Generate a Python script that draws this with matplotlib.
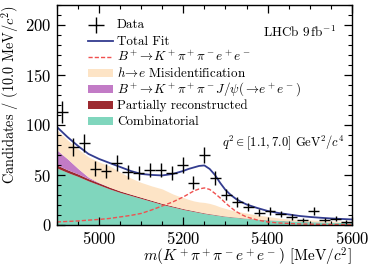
import numpy as np
import matplotlib
matplotlib.use("Agg")
import matplotlib.pyplot as plt
from matplotlib.patches import Rectangle
from matplotlib.ticker import MultipleLocator

plt.rcParams['font.family'] = 'serif'
plt.rcParams['font.serif'] = ['cmr10', 'DejaVu Serif']
plt.rcParams['mathtext.fontset'] = 'cm'
plt.rcParams['axes.formatter.use_mathtext'] = True

# data histogram (27 bins between 4900 and 5600 MeV)
bin_edges = np.linspace(4900, 5600, 28)
counts = [113, 78, 82, 56, 54, 62, 53, 52, 55, 55, 52, 60, 42, 70, 47,
          30, 23, 18, 12, 14, 11, 8, 5, 14, 5, 6, 3]

# fit components (finer steps around the peak)
mass = [4900, 4925, 4950, 4975, 5000, 5025, 5050, 5075, 5100, 5125,
        5150, 5175, 5187.5, 5200, 5212.5, 5225, 5237.5, 5250, 5262.5, 5275,
        5287.5, 5300, 5312.5, 5325, 5337.5, 5350, 5375, 5400, 5425, 5450,
        5475, 5500, 5525, 5550, 5575, 5600]
comb = [57, 52.5, 48.5, 44, 40, 36, 32.5, 29.5, 26.5, 23.5,
        20.5, 18, 16.8, 15.5, 14.5, 13.5, 12.5, 11.5, 10.7, 10,
        9.2, 8.5, 8, 7.5, 7, 6.5, 5.5, 5, 4.5, 4,
        3.5, 3.2, 3, 2.7, 2.5, 2.3]
partreco = [3, 2.7, 2.5, 2.2, 2, 1.8, 1.5, 1.3, 1.2, 1.1,
            1, 0.9, 0.85, 0.8, 0.75, 0.7, 0.65, 0.6, 0.55, 0.5,
            0.45, 0.4, 0.38, 0.35, 0.32, 0.3, 0.25, 0.2, 0.2, 0.15,
            0.15, 0.1, 0.1, 0.1, 0.1, 0.1]
jpsi = [15, 11, 5.5, 1.5, 0.3, 0, 0, 0, 0, 0,
        0, 0, 0, 0, 0, 0, 0, 0, 0, 0,
        0, 0, 0, 0, 0, 0, 0, 0, 0, 0,
        0, 0, 0, 0, 0, 0]
misid_top = [95, 85, 76, 68, 63, 59, 53, 47, 42.5, 39,
             36, 31, 29, 27.5, 25.5, 24, 23, 22.5, 21.5, 20,
             18, 16.5, 15, 13.8, 12.8, 11.8, 10, 8.5, 7, 6,
             5.5, 5, 4.5, 4, 3.7, 3.5]
signal = [3, 3.5, 4, 4.8, 5.5, 6.5, 8, 9.5, 11.5, 15,
          19, 23, 25.5, 28, 31, 34, 36, 37, 35.5, 31.5,
          27, 22, 17.5, 13.5, 10.5, 8, 5, 3, 2, 1.5,
          1, 0.8, 0.6, 0.5, 0.4, 0.3]
total = [98, 88, 79, 71, 66, 62, 58, 54, 51, 50,
         49.5, 51, 52.5, 54, 56, 57.5, 59, 59.5, 56, 50,
         42, 35, 30, 26, 23, 20.5, 17, 14, 12, 10.5,
         9, 8, 7.2, 6.5, 6, 5.5]

c_comb = '#80d6bd'
c_part = '#9c2a30'
c_jpsi = '#c27bc6'
c_misid = '#fde4c6'
c_total = '#333c8f'
c_sig = '#f0504f'

x = np.array(mass, dtype=float)
lvl1 = np.array(comb)
lvl2 = lvl1 + np.array(partreco)
lvl3 = lvl2 + np.array(jpsi)
lvl4 = np.maximum(np.array(misid_top), lvl3)

fig = plt.figure(figsize=(3.74, 2.72), dpi=100)
ax = fig.add_axes([0.152, 0.173, 0.789, 0.809])

ax.fill_between(x, 0, lvl1, color=c_comb, lw=0)
ax.fill_between(x, lvl1, lvl2, color=c_part, lw=0)
ax.fill_between(x, lvl2, lvl3, color=c_jpsi, lw=0)
ax.fill_between(x, lvl3, lvl4, color=c_misid, lw=0)
ax.plot(x, signal, color=c_sig, lw=1.0, ls=(0, (3, 1.5)))
ax.plot(x, total, color=c_total, lw=1.3)

centers = 0.5 * (bin_edges[1:] + bin_edges[:-1])
halfw = 0.5 * (bin_edges[1] - bin_edges[0])
cnt = np.array(counts, dtype=float)
ax.errorbar(centers, cnt, xerr=halfw, yerr=np.sqrt(cnt), fmt='none',
            ecolor='black', elinewidth=1.0, capsize=0)

ax.set_xlim(4900, 5600)
ax.set_ylim(0, 220)
ax.xaxis.set_major_locator(MultipleLocator(200))
ax.xaxis.set_minor_locator(MultipleLocator(50))
ax.yaxis.set_major_locator(MultipleLocator(50))
ax.yaxis.set_minor_locator(MultipleLocator(10))
ax.tick_params(which='both', direction='in', top=True, right=True, labelsize=12)
ax.tick_params(which='major', length=6, width=0.9, pad=4)
ax.tick_params(which='minor', length=3, width=0.8)
for s in ax.spines.values():
    s.set_linewidth(1.0)

ax.set_ylabel(r'Candidates / (10.0 MeV/$c^2$)', fontsize=10.3, loc='top', labelpad=3)
ax.set_xlabel(r'$m(K^+\pi^+\pi^-e^+e^-)$ [MeV/$c^2$]', fontsize=11, loc='right', labelpad=-1)

ax.text(0.945, 0.875, r'LHCb 9$\,$fb$^{-1}$', transform=ax.transAxes,
        ha='right', va='center', fontsize=9.5)
ax.text(0.975, 0.375, r'$q^2 \in [1.1, 7.0]$ GeV$^2$/$c^4$', transform=ax.transAxes,
        ha='right', va='center', fontsize=9)

# legend drawn by hand so the rows keep an even pitch
labels = [
    'Data',
    'Total Fit',
    r'$B^+\!\rightarrow\! K^+\pi^+\pi^-e^+e^-$',
    r'$h\!\rightarrow\! e$ Misidentification',
    r'$B^+\!\rightarrow\! K^+\pi^+\pi^-J/\psi(\rightarrow\! e^+e^-)$',
    'Partially reconstructed',
    'Combinatorial',
]
kinds = ['data', c_total, 'sig', c_misid, c_jpsi, c_part, c_comb]
hx0, hx1, tx = 0.105, 0.19, 0.203
y0, dy = 0.909, 0.0731
tr = ax.transAxes
for i, (lab, kind) in enumerate(zip(labels, kinds)):
    yc = y0 - i * dy
    if kind == 'data':
        ax.plot([0.131], [yc], marker='+', ms=11, mew=1.0, color='black',
                transform=tr, clip_on=False)
    elif kind == 'sig':
        ax.plot([hx0, hx1], [yc, yc], color=c_sig, lw=1.0, ls=(0, (3, 1.5)),
                transform=tr, clip_on=False)
    elif kind == c_total:
        ax.plot([hx0, hx1], [yc, yc], color=c_total, lw=1.3,
                transform=tr, clip_on=False)
    else:
        ax.add_patch(Rectangle((hx0, yc - 0.018), hx1 - hx0, 0.036,
                               facecolor=kind, edgecolor='none', transform=tr))
    ax.text(tx, yc - 0.016, lab, transform=tr, ha='left', va='baseline',
            fontsize=9.4)

fig.savefig('out.png', dpi=100)
